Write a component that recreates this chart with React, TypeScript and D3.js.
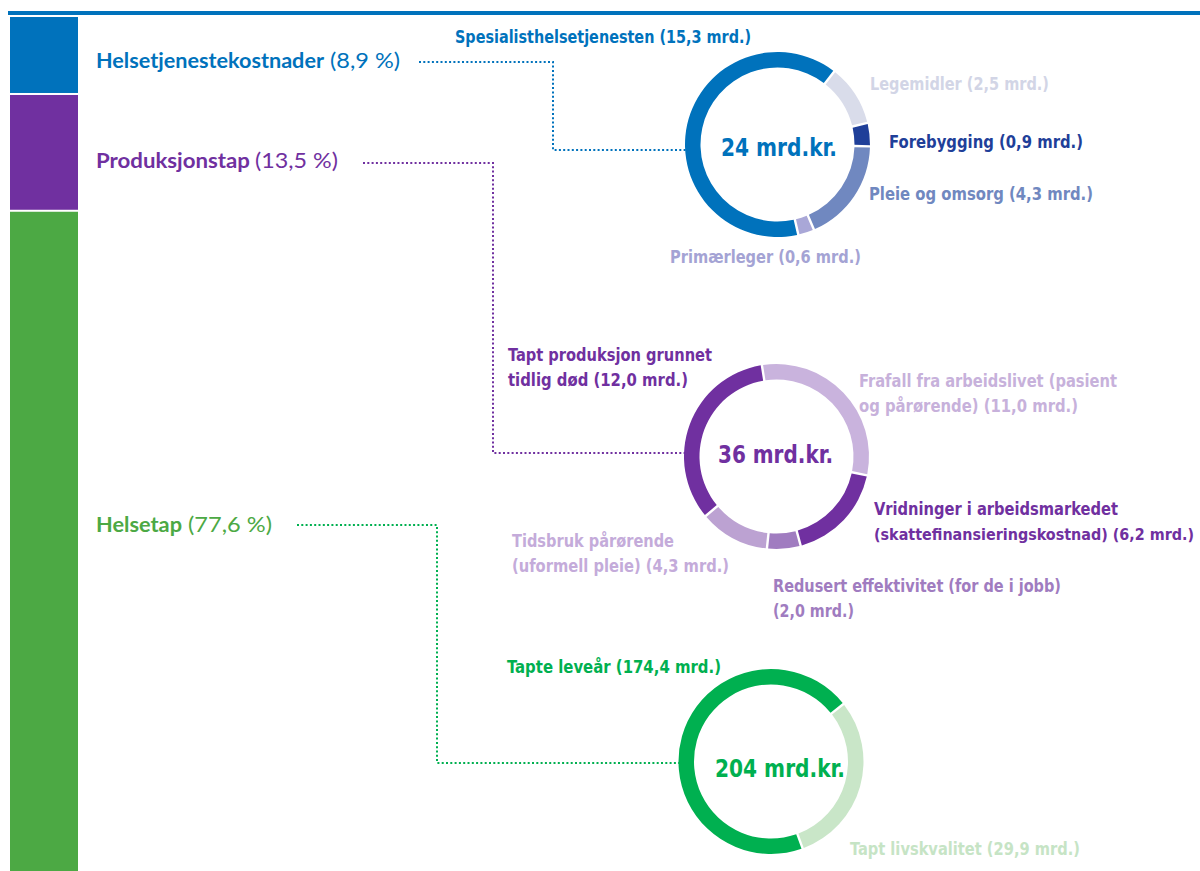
import React from 'react';
import * as d3 from 'd3';

// ---------- data ----------
const shareCategories = ['Helsetjenestekostnader', 'Produksjonstap', 'Helsetap'];
const shareValues = [8.9, 13.5, 77.6];

const helsetjenesteCategories = ['Spesialisthelsetjenesten', 'Legemidler', 'Forebygging', 'Pleie og omsorg', 'Primærleger'];
const helsetjenesteValues = [15.3, 2.5, 0.9, 4.3, 0.6];

const produksjonCategories = [
  'Tapt produksjon grunnet\ntidlig død',
  'Frafall fra arbeidslivet (pasient\nog pårørende)',
  'Vridninger i arbeidsmarkedet\n(skattefinansieringskostnad)',
  'Redusert effektivitet (for de i jobb)\n',
  'Tidsbruk pårørende\n(uformell pleie)',
];
const produksjonValues = [12.0, 11.0, 6.2, 2.0, 4.3];

const helsetapCategories = ['Tapte leveår', 'Tapt livskvalitet'];
const helsetapValues = [174.4, 29.9];
// arc sizes as drawn in the reference picture (the ring is not proportional to the labelled values)
const helsetapArcShares = [70, 30];

const donutTotals = ['24 mrd.kr.', '36 mrd.kr.', '204 mrd.kr.'];

// ---------- styles ----------
const shareColors = ['#0072BC', '#7030A0', '#4CA944'];
const shareLabelColors = ['#0072BC', '#7030A0', '#4CA944'];
const connectorColors = ['#0072BC', '#7030A0', '#00B050'];
const helsetjenesteColors = ['#0072BC', '#D9DCEA', '#1F3F99', '#7088C0', '#A9A7D7'];
const helsetjenesteLabelColors = ['#0072BC', '#D2D5E6', '#1F3F99', '#7088C0', '#A4A3D4'];
const produksjonColors = ['#7030A0', '#C9B3DD', '#7030A0', '#A07CC0', '#BCA2D2'];
const produksjonLabelColors = ['#7030A0', '#C7B1DB', '#7030A0', '#A07CC0', '#C4ABDA'];
const helsetapColors = ['#00B050', '#C9E6C8'];
const helsetapLabelColors = ['#00B050', '#C6E4C5'];

const numFmt = d3.formatLocale({ decimal: ',', thousands: ' ', grouping: [3], currency: ['', ''] }).format('.1f');
const pctFmt = (v: number) => `(${numFmt(v)} %)`;
const labelLines = (cat: string, v: number) =>
  `${cat} (${numFmt(v)} mrd.)`.split('\n').map((s) => s.trim());

const condensed = "'Liberation Sans Narrow', 'DejaVu Sans Condensed', 'Roboto Condensed', 'Roboto', sans-serif";
const geometric = "Lato, 'Noto Sans', sans-serif";

// ---------- layout ----------
const W = 1200;
const H = 871;
const R_OUT = 92.5;
const R_IN = 77;

const donuts = [
  {
    cx: 777.5, cy: 144.5, startDeg: -193,
    cats: helsetjenesteCategories, values: helsetjenesteValues, arcValues: helsetjenesteValues,
    colors: helsetjenesteColors, labelColors: helsetjenesteLabelColors,
    total: { x: 721, y: 156, w: 116, color: '#0072BC' },
    labels: [
      { x: 455, y: 43, w: [296] },
      { x: 870, y: 90, w: [179] },
      { x: 889, y: 148, w: [194] },
      { x: 869, y: 200, w: [224] },
      { x: 670, y: 263, w: [191] },
    ],
  },
  {
    cx: 776.5, cy: 456.5, startDeg: -130,
    cats: produksjonCategories, values: produksjonValues, arcValues: produksjonValues,
    colors: produksjonColors, labelColors: produksjonLabelColors,
    total: { x: 718, y: 463, w: 115, color: '#7030A0' },
    labels: [
      { x: 508, y: 361, w: [204, 180] },
      { x: 859, y: 387, w: [258, 219] },
      { x: 874, y: 515, w: [244, 320] },
      { x: 773, y: 592, w: [288, 81] },
      { x: 512, y: 547, w: [162, 217] },
    ],
  },
  {
    cx: 771, cy: 761.5, startDeg: -200,
    cats: helsetapCategories, values: helsetapValues, arcValues: helsetapArcShares,
    colors: helsetapColors, labelColors: helsetapLabelColors,
    total: { x: 715, y: 777, w: 130, color: '#00B050' },
    labels: [
      { x: 507, y: 673, w: [214] },
      { x: 850, y: 855, w: [230] },
    ],
  },
];

const leftLabels = [
  { y: 68, boldW: 228, regX: 330, regW: 70 },
  { y: 168, boldW: 154, regX: 255, regW: 83 },
  { y: 532, boldW: 86, regX: 188, regW: 84 },
];

const connectors = [
  { x0: 419, y0: 62, xm: 553, y1: 150 },
  { x0: 363, y0: 163, xm: 493, y1: 453 },
  { x0: 297, y0: 525, xm: 437, y1: 763 },
];

const LINE_H = 24.5;

export default function App() {
  const yScale = d3.scaleLinear().domain([0, d3.sum(shareValues)]).range([17, 882]);
  const cum = Array.from(d3.cumsum(shareValues));
  const starts = [0, ...cum.slice(0, -1)];

  const arcGen = d3.arc<d3.PieArcDatum<number>>().innerRadius(R_IN).outerRadius(R_OUT);

  return (
    <svg width={W} height={H} style={{ position: 'absolute', left: 0, top: 0, background: '#fff' }}>
      <rect x={0} y={0} width={W} height={H} fill="#fff" />
      {/* top rule */}
      <rect x={8} y={11} width={W - 8} height={4} fill="#0072BC" />

      {/* stacked share bar */}
      {shareValues.map((v, i) => {
        const y0 = yScale(starts[i]) + (i === 0 ? 0 : 1);
        const y1 = yScale(cum[i]) - (i === shareValues.length - 1 ? 0 : 1);
        return <rect key={i} x={10} y={y0} width={68} height={y1 - y0} fill={shareColors[i]} />;
      })}

      {/* left labels */}
      {shareCategories.map((c, i) => (
        <g key={c}>
          <text x={96} y={leftLabels[i].y} fontFamily={geometric} fontWeight={700} fontSize={21}
            fill={shareLabelColors[i]} textLength={leftLabels[i].boldW} lengthAdjust="spacingAndGlyphs">{c}</text>
          <text x={leftLabels[i].regX} y={leftLabels[i].y} fontFamily={geometric} fontWeight={400} fontSize={21}
            fill={shareLabelColors[i]} textLength={leftLabels[i].regW} lengthAdjust="spacingAndGlyphs">{pctFmt(shareValues[i])}</text>
        </g>
      ))}

      {/* connectors */}
      {connectors.map((c, i) => {
        const d = donuts[i];
        const xEnd = d.cx - R_OUT + 1;
        const path = d3.line()([[c.x0, c.y0], [c.xm, c.y0], [c.xm, c.y1], [xEnd, c.y1]]) || '';
        return <path key={i} d={path} fill="none" stroke={connectorColors[i]} strokeWidth={2} strokeDasharray="2 2.3" />;
      })}

      {/* donuts */}
      {donuts.map((d, di) => {
        const start = (d.startDeg * Math.PI) / 180;
        const pie = d3.pie<number>().sort(null).value((v) => v).startAngle(start).endAngle(start + 2 * Math.PI).padAngle(0.02);
        const arcs = pie(d.arcValues);
        return (
          <g key={di}>
            <g transform={`translate(${d.cx},${d.cy})`}>
              {arcs.map((a, i) => (
                <path key={i} d={arcGen(a) || ''} fill={d.colors[i]} />
              ))}
            </g>
            <text x={d.total.x} y={d.total.y} fontFamily={condensed} fontWeight={700} fontSize={25}
              fill={d.total.color} textLength={d.total.w} lengthAdjust="spacingAndGlyphs">{donutTotals[di]}</text>
            {d.cats.map((c, i) => {
              const lines = labelLines(c, d.values[i]);
              const L = d.labels[i];
              return (
                <g key={i}>
                  {lines.map((ln, li) => (
                    <text key={li} x={L.x} y={L.y + li * LINE_H} fontFamily={condensed} fontWeight={700}
                      fontSize={li === 1 && L.w[li] > 300 ? 16 : 17}
                      fill={d.labelColors[i]} textLength={L.w[li]} lengthAdjust="spacingAndGlyphs">{ln}</text>
                  ))}
                </g>
              );
            })}
          </g>
        );
      })}
    </svg>
  );
}
